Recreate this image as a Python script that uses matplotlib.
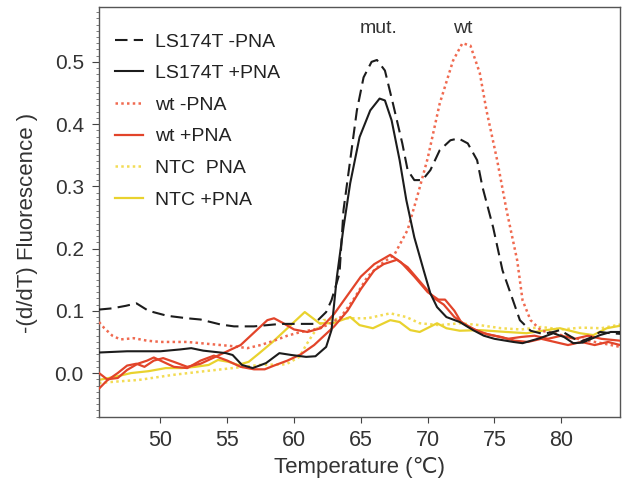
import matplotlib
matplotlib.use("Agg")
import matplotlib.pyplot as plt
from matplotlib.ticker import MultipleLocator

plt.rcParams['font.family'] = ['Liberation Sans', 'DejaVu Sans']

# LS174T -PNA (negro, discontinua)
t_ls_menos = [45.4, 46.4, 47.4, 48.2, 49.1, 50.5, 52.0, 53.0, 54.5, 55.5, 57.0, 59.0, 61.5,
              62.4, 62.8, 63.4, 63.7, 64.2, 64.7, 65.2, 65.8, 66.2, 66.8, 67.4, 68.1, 68.5,
              69.0, 69.6, 70.2, 70.9, 71.7, 72.3, 73.0, 73.7, 74.1, 74.9, 75.6, 76.3, 76.9,
              77.7, 78.6, 79.4, 79.9, 80.6, 81.4, 82.2, 82.9, 83.7, 84.4]
y_ls_menos = [0.102, 0.104, 0.108, 0.112, 0.100, 0.092, 0.088, 0.086, 0.078, 0.075, 0.075, 0.079, 0.079,
              0.098, 0.117, 0.160, 0.262, 0.342, 0.422, 0.475, 0.500, 0.503, 0.486, 0.433, 0.369, 0.326,
              0.310, 0.310, 0.326, 0.358, 0.374, 0.377, 0.369, 0.342, 0.299, 0.234, 0.165, 0.122, 0.085,
              0.068, 0.063, 0.066, 0.069, 0.060, 0.050, 0.057, 0.066, 0.064, 0.063]

# LS174T +PNA (negro, continua)
t_ls_mas = [45.4, 47.5, 50.0, 51.5, 52.3, 53.2, 54.9, 55.4, 56.1, 56.9, 57.9, 58.9, 59.8, 60.9,
            61.6, 62.4, 62.8, 63.2, 63.7, 64.2, 64.9, 65.7, 66.4, 66.8, 67.3, 67.9, 68.4, 69.0,
            69.7, 70.2, 70.7, 71.4, 72.4, 73.4, 74.2, 75.0, 76.4, 77.1, 78.4, 79.4, 80.2, 80.9,
            81.6, 82.9, 83.7, 84.4]
y_ls_mas = [0.033, 0.035, 0.035, 0.038, 0.040, 0.036, 0.032, 0.029, 0.013, 0.008, 0.016, 0.032, 0.029, 0.026,
            0.027, 0.042, 0.069, 0.154, 0.234, 0.305, 0.379, 0.422, 0.441, 0.438, 0.406, 0.342, 0.278, 0.218,
            0.165, 0.128, 0.106, 0.090, 0.082, 0.069, 0.060, 0.055, 0.050, 0.048, 0.056, 0.064, 0.058, 0.048,
            0.049, 0.061, 0.066, 0.066]

# wt -PNA (rojo, punteada)
t_wt_menos = [45.4, 45.8, 46.4, 47.0, 48.0, 49.0, 50.0, 52.0, 54.0, 55.5, 56.5, 57.5, 58.5, 59.5,
              60.5, 61.5, 62.5, 63.5, 64.5, 65.5, 66.5, 67.5, 68.5, 69.3, 70.0, 70.9, 71.9, 72.6,
              73.2, 73.9, 74.4, 75.2, 75.9, 76.7, 77.1, 77.7, 78.5, 79.5, 80.5, 81.5, 82.5, 83.5, 84.4]
y_wt_menos = [0.082, 0.072, 0.060, 0.054, 0.056, 0.052, 0.050, 0.050, 0.046, 0.043, 0.040, 0.045, 0.052, 0.060,
              0.066, 0.070, 0.077, 0.090, 0.120, 0.155, 0.175, 0.190, 0.230, 0.290, 0.345, 0.433, 0.502, 0.530,
              0.526, 0.482, 0.422, 0.342, 0.262, 0.181, 0.117, 0.085, 0.068, 0.064, 0.058, 0.054, 0.050, 0.046, 0.042]

# wt +PNA (rojo, continua), dos réplicas
t_wt_mas_a = [45.4, 46.0, 46.8, 47.5, 48.2, 48.8, 49.5, 50.2, 51.0, 52.0, 53.0, 54.0, 55.0, 56.0,
              57.0, 58.0, 58.5, 59.2, 60.0, 61.0, 62.0, 63.0, 64.0, 65.0, 66.0, 67.2, 68.0, 69.0,
              70.0, 70.8, 71.3, 72.0, 72.5, 73.5, 74.5, 75.5, 76.5, 77.5, 78.5, 79.5, 80.5, 81.5,
              82.5, 83.5, 84.4]
y_wt_mas_a = [-0.025, -0.012, 0.000, 0.012, 0.015, 0.010, 0.020, 0.024, 0.018, 0.010, 0.015, 0.025, 0.035, 0.045,
              0.065, 0.085, 0.088, 0.080, 0.070, 0.066, 0.072, 0.095, 0.125, 0.155, 0.175, 0.190, 0.178, 0.155,
              0.130, 0.118, 0.118, 0.100, 0.082, 0.070, 0.062, 0.058, 0.052, 0.050, 0.055, 0.050, 0.045, 0.050,
              0.045, 0.050, 0.045]
t_wt_mas_b = [45.4, 46.0, 46.8, 47.5, 48.3, 49.0, 49.5, 50.2, 51.0, 52.0, 53.0, 54.0, 55.0, 56.0,
              57.0, 57.8, 58.5, 59.5, 60.5, 61.5, 62.0, 63.0, 64.0, 65.0, 66.0, 66.7, 67.7, 68.5,
              69.5, 70.5, 71.2, 72.0, 73.0, 74.0, 75.0, 76.0, 77.0, 78.0, 79.0, 80.0, 81.0, 82.0,
              83.0, 84.4]
y_wt_mas_b = [0.000, -0.010, -0.008, 0.005, 0.015, 0.020, 0.025, 0.018, 0.010, 0.008, 0.020, 0.028, 0.020, 0.010,
              0.006, 0.006, 0.012, 0.020, 0.030, 0.045, 0.055, 0.075, 0.100, 0.135, 0.165, 0.175, 0.182, 0.170,
              0.145, 0.120, 0.110, 0.090, 0.075, 0.065, 0.060, 0.055, 0.058, 0.060, 0.055, 0.060, 0.055, 0.060,
              0.055, 0.052]

# NTC PNA (amarillo, punteada)
t_ntc_menos = [45.4, 46.5, 48.4, 50.9, 52.9, 55.4, 57.4, 59.4, 60.4, 60.9, 61.4, 62.2, 63.9, 65.5,
               67.2, 68.4, 69.4, 70.9, 72.4, 73.9, 75.5, 77.0, 78.5, 80.0, 81.5, 83.0, 84.4]
y_ntc_menos = [-0.016, -0.014, -0.011, -0.003, 0.002, 0.008, 0.013, 0.014, 0.026, 0.045, 0.062, 0.085, 0.088, 0.088,
               0.096, 0.090, 0.080, 0.077, 0.080, 0.077, 0.072, 0.070, 0.074, 0.070, 0.073, 0.072, 0.078]

# NTC +PNA (amarillo, continua)
t_ntc_mas = [45.4, 46.6, 47.8, 49.1, 50.4, 51.6, 52.6, 53.6, 54.3, 55.1, 55.8, 56.6, 57.4, 58.4,
             59.4, 60.4, 60.8, 61.9, 62.9, 64.2, 64.9, 65.9, 67.2, 67.9, 68.7, 69.4, 70.7, 71.4,
             72.4, 73.9, 75.9, 77.4, 78.9, 79.9, 81.4, 82.4, 83.4, 84.4]
y_ntc_mas = [-0.011, -0.006, 0.000, 0.003, 0.008, 0.008, 0.010, 0.013, 0.021, 0.018, 0.013, 0.018, 0.032, 0.050,
             0.070, 0.090, 0.098, 0.080, 0.080, 0.090, 0.077, 0.072, 0.085, 0.082, 0.069, 0.066, 0.080, 0.072,
             0.068, 0.069, 0.066, 0.064, 0.069, 0.072, 0.064, 0.061, 0.072, 0.076]

negro = '#1c1c1c'
rojo = '#e2442a'
rojo_claro = '#f06a50'
amarillo = '#e9d22e'
amarillo_claro = '#f3dc55'

fig = plt.figure(figsize=(6.24, 4.88), dpi=100)
ax = fig.add_axes([0.1587, 0.1455, 0.835, 0.840])

ax.plot(t_ls_menos, y_ls_menos, color=negro, lw=1.5, ls=(0, (6, 3)), label='LS174T -PNA', zorder=5)
ax.plot(t_ls_mas, y_ls_mas, color=negro, lw=1.5, label='LS174T +PNA', zorder=5)
ax.plot(t_wt_menos, y_wt_menos, color=rojo_claro, lw=1.8, ls=(0, (1, 1.3)), label='wt -PNA', zorder=3)
ax.plot(t_wt_mas_a, y_wt_mas_a, color=rojo, lw=1.6, label='wt +PNA', zorder=4)
ax.plot(t_wt_mas_b, y_wt_mas_b, color=rojo, lw=1.6, zorder=4)
ax.plot(t_ntc_menos, y_ntc_menos, color=amarillo_claro, lw=1.8, ls=(0, (1, 1.3)), label='NTC  PNA', zorder=2)
ax.plot(t_ntc_mas, y_ntc_mas, color=amarillo, lw=1.6, label='NTC +PNA', zorder=2)

ax.set_xlim(45.4, 84.4)
ax.set_ylim(-0.0706, 0.588)
ax.set_xticks([50, 55, 60, 65, 70, 75, 80])
ax.set_yticks([0.0, 0.1, 0.2, 0.3, 0.4, 0.5])
ax.yaxis.set_minor_locator(MultipleLocator(0.01))
ax.tick_params(axis='x', which='major', labelsize=15.5, colors='#444444', labelcolor='#333333',
               length=4.5, width=0.8, pad=5)
ax.tick_params(axis='y', which='major', labelsize=15, colors='#444444', labelcolor='#333333',
               length=5, width=0.8, pad=6)
ax.tick_params(axis='y', which='minor', length=2.5, width=0.6, colors='#666666')
for s in ax.spines.values():
    s.set_color('#555555')
    s.set_linewidth(1.0)

ax.set_xlabel('Temperature (\u2103)', fontsize=16, color='#333333')
ax.set_ylabel('-(d/dT) Fluorescence )', fontsize=16, color='#333333')
ax.xaxis.set_label_coords(0.5, -0.097)
ax.yaxis.set_label_coords(-0.118, 0.473)

ax.text(66.3, 0.553, 'mut.', fontsize=14, color='#333333', ha='center', va='center')
ax.text(72.6, 0.553, 'wt', fontsize=14, color='#333333', ha='center', va='center')

ax.legend(loc='upper left', bbox_to_anchor=(0.031, 0.937), frameon=False, fontsize=14,
          handlelength=1.45, handletextpad=0.62, labelspacing=0.72, borderaxespad=0, borderpad=0,
          labelcolor='#222222')

fig.savefig('out.png', dpi=100)
